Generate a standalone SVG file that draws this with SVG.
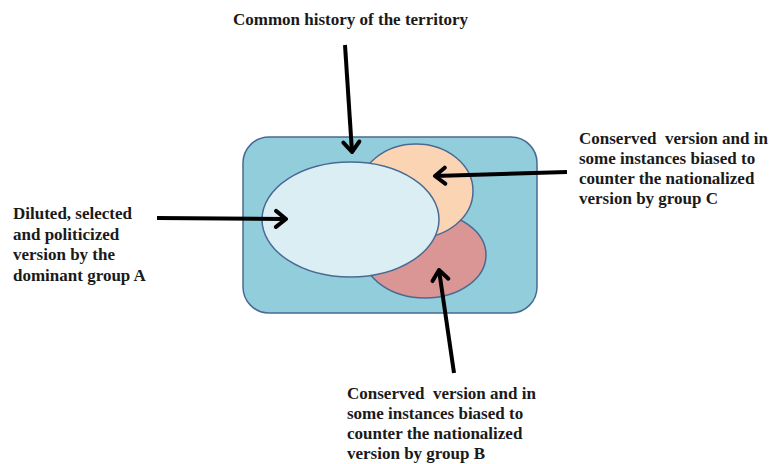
<svg xmlns="http://www.w3.org/2000/svg" width="769" height="464" viewBox="0 0 769 464">
<defs>
<style>
.lbl{font-family:"Liberation Serif","Times New Roman",serif;font-weight:bold;font-size:17px;fill:#1a1a1a;white-space:pre}
.conn{stroke:#000;stroke-width:4;fill:none;marker-end:url(#chev)}
.shape{stroke:#4a6a94;stroke-width:1.5}
</style>
<marker id="chev" markerUnits="userSpaceOnUse" viewBox="-14 -11 16 22" refX="0" refY="0" markerWidth="16" markerHeight="22" orient="auto">
<path d="M-10,-8 L0,0 L-10,8" fill="none" stroke="#000" stroke-width="4" stroke-linecap="round" stroke-linejoin="round"/>
</marker>
</defs>
<rect width="769" height="464" fill="#fff"/>
<g id="territory">
<rect class="shape" x="243" y="137" width="294" height="176" rx="26" ry="26" fill="#92CDDC"/>
</g>
<g id="groupB">
<ellipse class="shape" cx="425" cy="255" rx="61" ry="43" fill="#D99694"/>
</g>
<g id="groupC">
<ellipse class="shape" cx="416" cy="191" rx="57" ry="47" fill="#FBD4B4"/>
</g>
<g id="groupA">
<ellipse class="shape" cx="350.5" cy="219.5" rx="88.5" ry="57.5" fill="#DBEEF4"/>
</g>
<g id="connectors">
<line class="conn" x1="345" y1="45" x2="352" y2="152"/>
<line class="conn" x1="157" y1="218" x2="286" y2="219"/>
<line class="conn" x1="567" y1="172" x2="435" y2="176"/>
<line class="conn" x1="454" y1="373" x2="439" y2="270"/>
</g>
<g id="label-top">
<text class="lbl" x="233" y="25">Common history of the territory</text>
</g>
<g id="label-a">
<text class="lbl" x="13" y="219">Diluted, selected</text>
<text class="lbl" x="13" y="240">and politicized</text>
<text class="lbl" x="13" y="260">version by the</text>
<text class="lbl" x="13" y="281">dominant group A</text>
</g>
<g id="label-c">
<text class="lbl" x="579" y="144" xml:space="preserve">Conserved  version and in</text>
<text class="lbl" x="579" y="164">some instances biased to</text>
<text class="lbl" x="579" y="184">counter the nationalized</text>
<text class="lbl" x="579" y="204">version by group C</text>
</g>
<g id="label-b">
<text class="lbl" x="347" y="399" xml:space="preserve">Conserved  version and in</text>
<text class="lbl" x="347" y="419">some instances biased to</text>
<text class="lbl" x="347" y="439">counter the nationalized</text>
<text class="lbl" x="347" y="459">version by group B</text>
</g>
</svg>
